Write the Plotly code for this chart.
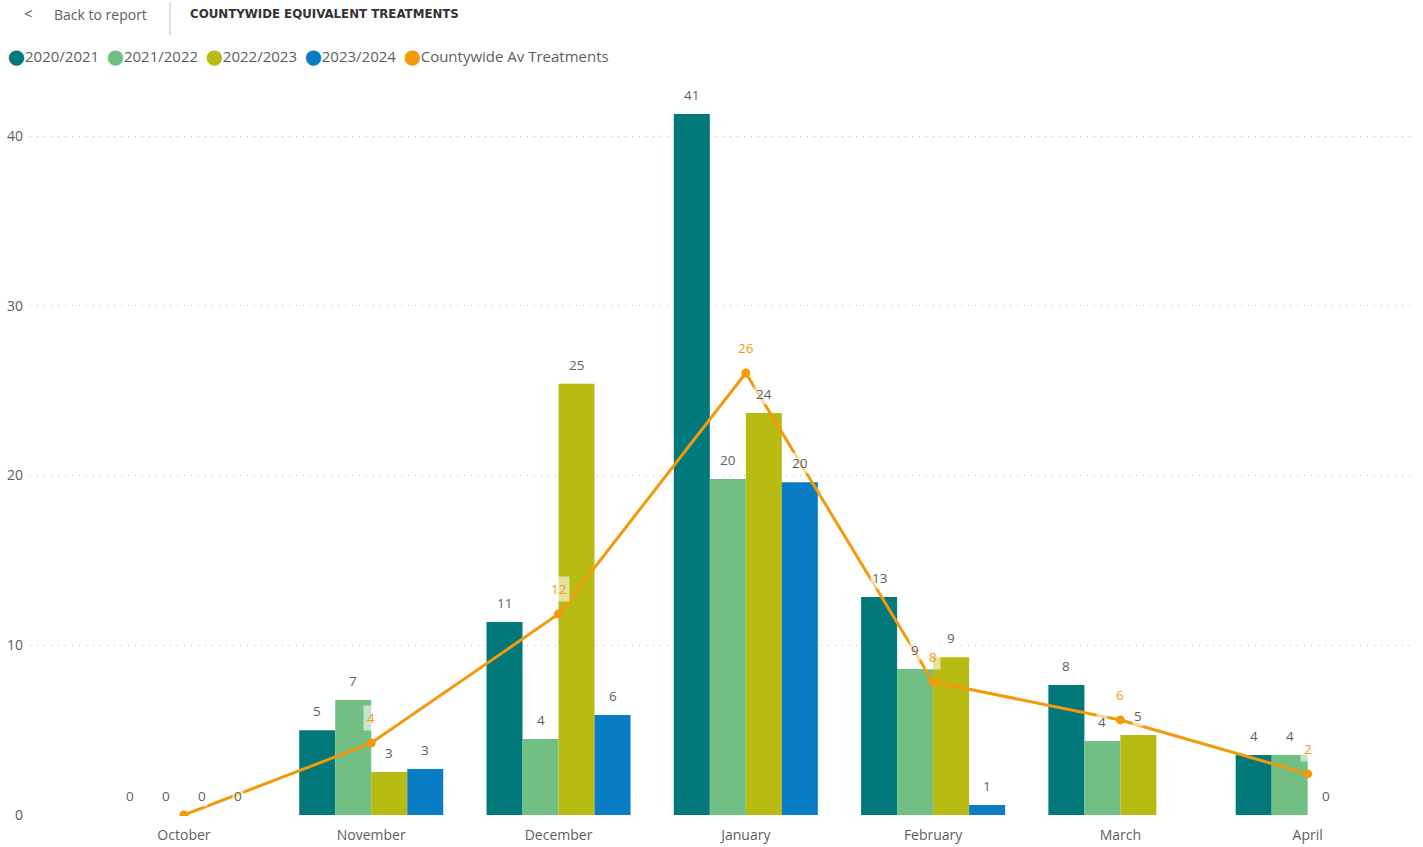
import plotly.graph_objects as go

months = ["October", "November", "December", "January", "February", "March", "April"]
series_names = ["2020/2021", "2021/2022", "2022/2023", "2023/2024"]
s2020 = [0, 5.0, 11.37, 41.3, 12.84, 7.66, 3.53]
s2021 = [0, 6.77, 4.48, 19.8, 8.6, 4.36, 3.53]
s2022 = [0, 2.53, 25.4, 23.68, 9.3, 4.71, 0]
s2023 = [0, 2.71, 5.89, 19.6, 0.59, None, None]
avg_name = "Countywide Av Treatments"
avg = [0, 4.24, 11.84, 26.04, 7.84, 5.6, 2.42]

colors = ["#01787A", "#72BF84", "#B8BB11", "#0A7CC4"]
avg_color = "#F39A0B"
text_gray = "#605E5C"
FONT = "Segoe UI, Open Sans, sans-serif"

W, H = 1423, 847
L, R, T, B = 30, 8, 80, 31
PW, PH = W - L - R, H - T - B
xr = [-0.822, 6.573]
yr = [-0.059, 43.30]
bargap = 0.231

def paper_x(px):
    return (px - L) / PW

def paper_y(py):
    return (H - B - py) / PH

fig = go.Figure()
all_series = [s2020, s2021, s2022, s2023]
for name, vals, c in zip(series_names, all_series, colors):
    fig.add_trace(go.Bar(x=months, y=vals, name=name, marker_color=c,
                         marker_line_width=0, showlegend=False,
                         hovertemplate="%{x}: %{y}<extra>" + name + "</extra>"))

fig.add_trace(go.Scatter(x=months, y=avg, name=avg_name, mode="lines+markers",
                         line=dict(color=avg_color, width=3),
                         marker=dict(size=9, color=avg_color), showlegend=False))

annotations = []
cat_px = PW / (xr[1] - xr[0])
bar_px = cat_px * (1 - bargap) / len(all_series)
for i, vals in enumerate(all_series):
    for m, v in zip(months, vals):
        if v is None:
            continue
        annotations.append(dict(x=m, y=v, xref="x", yref="y", text=f"{v:.0f}",
                                showarrow=False, xshift=(i - 1.5) * bar_px, yshift=19,
                                font=dict(family=FONT, size=13.5, color=text_gray),
                                bgcolor="rgba(255,255,255,0.6)", borderpad=1))
for m, v in zip(months, avg):
    if round(v) == 0:
        continue
    annotations.append(dict(x=m, y=v, xref="x", yref="y", text=f"{v:.0f}",
                            showarrow=False, yshift=25,
                            font=dict(family=FONT, size=13.5, color=avg_color),
                            bgcolor="rgba(255,255,255,0.6)", borderpad=3))

# legend as compact text
legend_parts = []
for name, c in zip(series_names + [avg_name], colors + [avg_color]):
    legend_parts.append(f"<span style='color:{c}'>⬤</span>{name}")
annotations.append(dict(xref="paper", yref="paper", x=paper_x(6), y=paper_y(56),
                        xanchor="left", yanchor="middle", showarrow=False,
                        text="  ".join(legend_parts),
                        font=dict(family=FONT, size=15, color=text_gray)))

# header
annotations.append(dict(xref="paper", yref="paper", x=paper_x(22), y=paper_y(13),
                        xanchor="left", yanchor="middle", showarrow=False, text="<",
                        font=dict(family=FONT, size=15, color=text_gray)))
annotations.append(dict(xref="paper", yref="paper", x=paper_x(52), y=paper_y(14),
                        xanchor="left", yanchor="middle", showarrow=False, text="Back to report",
                        font=dict(family=FONT, size=14, color=text_gray)))
annotations.append(dict(xref="paper", yref="paper", x=paper_x(188), y=paper_y(14),
                        xanchor="left", yanchor="middle", showarrow=False,
                        text="<b>COUNTYWIDE EQUIVALENT TREATMENTS</b>",
                        font=dict(family="DejaVu Sans", size=11.8, color="#333333")))

shapes = [dict(type="line", xref="paper", yref="paper", x0=paper_x(170), x1=paper_x(170),
               y0=paper_y(2), y1=paper_y(35), line=dict(color="#C8C6C4", width=1))]

fig.update_layout(
    width=W, height=H, margin=dict(l=L, r=R, t=T, b=B, autoexpand=False),
    barmode="group", bargap=bargap, bargroupgap=0,
    plot_bgcolor="white", paper_bgcolor="white",
    font=dict(family=FONT, size=13, color=text_gray),
    annotations=annotations, shapes=shapes, showlegend=False,
    xaxis=dict(type="category", range=xr, showgrid=False, showline=False, ticks="",
               tickfont=dict(family=FONT, size=14, color=text_gray), fixedrange=True,
               ticklabelstandoff=9),
    yaxis=dict(range=yr, tickvals=[0, 10, 20, 30, 40], showgrid=True, griddash="1px,6px",
               gridcolor="#BDBDBD", gridwidth=1, zeroline=False, showline=False,
               ticks="", tickfont=dict(family=FONT, size=14, color=text_gray),
               ticklabelstandoff=6),
)

fig.write_html("out.html")
